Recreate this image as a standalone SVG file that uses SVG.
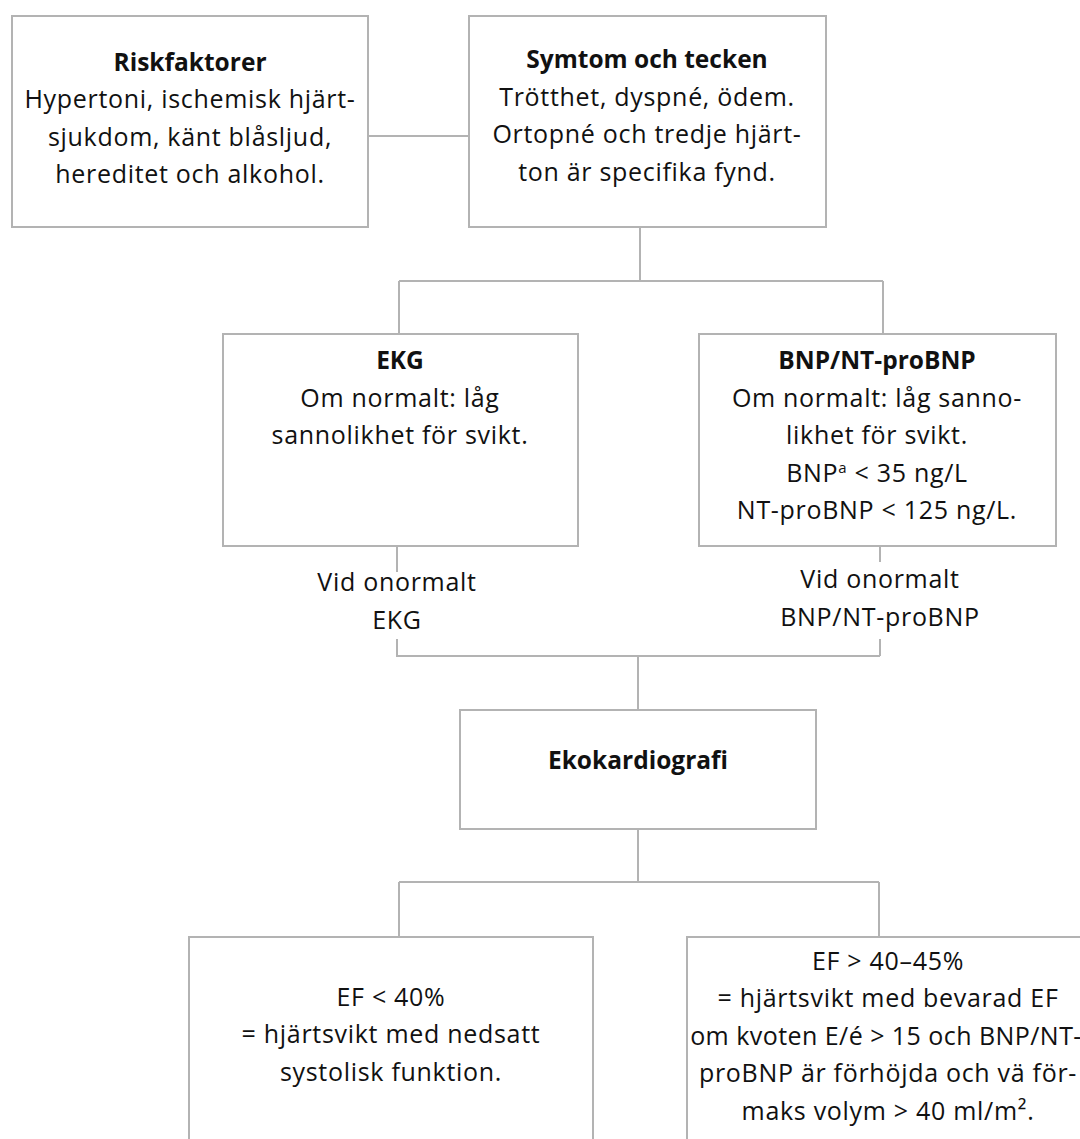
<svg xmlns="http://www.w3.org/2000/svg" width="1080" height="1139" viewBox="0 0 1080 1139">
<style>
.box{fill:#fff;stroke:#b3b3b3;stroke-width:2}
.ln{fill:none;stroke:#b3b3b3;stroke-width:2}
text{font-family:"Open Sans","Noto Sans","Liberation Sans",sans-serif;font-size:25px;letter-spacing:0.7px;fill:#111;text-anchor:middle}
.b{font-weight:700;font-size:24.5px;letter-spacing:0}
.t{letter-spacing:0.45px}
</style>
<rect width="1080" height="1139" fill="#fff"/>
<g id="connectors">
<path class="ln" d="M368,136H469"/>
<path class="ln" d="M640,227V281M399,281H883M399,281V334M883,281V334"/>
<path class="ln" d="M397,546V572M397,639V656H880M880,546V562M880,639V656M638,656V710"/>
<path class="ln" d="M638,829V882M399,882H879M399,882V937M879,882V937"/>
</g>
<g id="riskfaktorer">
<rect class="box" x="12" y="16" width="356" height="211"/>
<text x="190" y="71" class="b">Riskfaktorer</text>
<text x="190" y="108">Hypertoni, ischemisk hjärt-</text>
<text x="190" y="146">sjukdom, känt blåsljud,</text>
<text x="190" y="183">hereditet och alkohol.</text>
</g>
<g id="symtom">
<rect class="box" x="469" y="16" width="357" height="211"/>
<text x="647" y="68" class="b">Symtom och tecken</text>
<text x="647" y="106">Trötthet, dyspné, ödem.</text>
<text x="647" y="143">Ortopné och tredje hjärt-</text>
<text x="647" y="181">ton är specifika fynd.</text>
</g>
<g id="ekg">
<rect class="box" x="223" y="334" width="355" height="212"/>
<text x="400" y="369" class="b">EKG</text>
<text x="400" y="407">Om normalt: låg</text>
<text x="400" y="444">sannolikhet för svikt.</text>
</g>
<g id="bnp">
<rect class="box" x="699" y="334" width="357" height="212"/>
<text x="877" y="369" class="b">BNP/NT-proBNP</text>
<text x="877" y="407">Om normalt: låg sanno-</text>
<text x="877" y="444">likhet för svikt.</text>
<text x="877" y="482">BNP<tspan font-size="15" dy="-9">a</tspan><tspan dy="9"> &lt; 35 ng/L</tspan></text>
<text x="877" y="519">NT-proBNP &lt; 125 ng/L.</text>
</g>
<g id="label-ekg">
<text x="397" y="591">Vid onormalt</text>
<text x="397" y="629">EKG</text>
</g>
<g id="label-bnp">
<text x="880" y="588">Vid onormalt</text>
<text x="880" y="626">BNP/NT-proBNP</text>
</g>
<g id="eko">
<rect class="box" x="460" y="710" width="356" height="119"/>
<text x="638" y="769" class="b">Ekokardiografi</text>
</g>
<g id="ef-low">
<rect class="box" x="189" y="937" width="404" height="220"/>
<text x="391" y="1006">EF &lt; 40%</text>
<text x="391" y="1043">= hjärtsvikt med nedsatt</text>
<text x="391" y="1081">systolisk funktion.</text>
</g>
<g id="ef-high">
<rect class="box" x="687" y="937" width="404" height="220"/>
<text x="888" y="970">EF &gt; 40–45%</text>
<text x="888" y="1007">= hjärtsvikt med bevarad EF</text>
<text x="886" y="1045" class="t">om kvoten E/é &gt; 15 och BNP/NT-</text>
<text x="888" y="1082">proBNP är förhöjda och vä för-</text>
<text x="888" y="1120">maks volym &gt; 40 ml/m².</text>
</g>
</svg>
